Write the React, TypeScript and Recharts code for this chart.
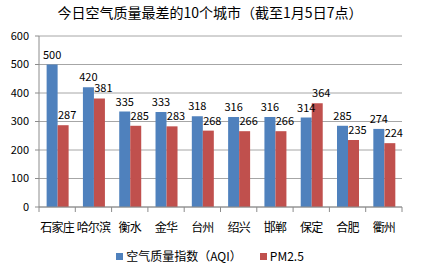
import { Bar, BarChart, CartesianGrid, LabelList, XAxis, YAxis } from "recharts";

const cities = ["石家庄", "哈尔滨", "衡水", "金华", "台州", "绍兴", "邯郸", "保定", "合肥", "衢州"];
const aqi = [500, 420, 335, 333, 318, 316, 316, 314, 285, 274];
const pm25 = [287, 381, 285, 283, 268, 266, 266, 364, 235, 224];
const yTicks = [0, 100, 200, 300, 400, 500, 600];
const series = [
  { key: "aqi", name: "空气质量指数（AQI）" },
  { key: "pm25", name: "PM2.5" },
];

const data = cities.map((city, i) => ({ city, aqi: aqi[i], pm25: pm25[i] }));

const FONT = "'Noto Sans CJK SC', 'Noto Sans', sans-serif";
const COLORS: Record<string, string> = {
  aqi: "#4F81BD",
  pm25: "#C0504D",
  grid: "#a6a6a6",
  tick: "#8c8c8c",
  text: "#000",
};

const W = 428;
const H = 271;
const MARGIN = { top: 36, right: 26, left: 0, bottom: 40 };
const Y_WIDTH = 39;
const TICK_MARGIN = 7;
const BAND = (W - MARGIN.left - MARGIN.right - Y_WIDTH) / cities.length;

// category label plus Excel-style tick marks on the band edges
function CityTick(props: any) {
  const { x, y, payload, index } = props;
  const left = x - BAND / 2;
  const right = x + BAND / 2;
  const axisY = y - TICK_MARGIN;
  return (
    <g>
      <line x1={left} x2={left} y1={axisY} y2={axisY + 5} stroke={COLORS.tick} />
      {index === cities.length - 1 && (
        <line x1={right} x2={right} y1={axisY} y2={axisY + 5} stroke={COLORS.tick} />
      )}
      <text
        x={x}
        y={y + 9}
        dy="0.71em"
        textAnchor="middle"
        fontSize={12}
        fill={COLORS.text}
        fontFamily={FONT}
        letterSpacing={-0.8}
      >
        {payload.value}
      </text>
    </g>
  );
}

export default function App() {
  return (
    <div
      style={{
        position: "absolute",
        left: 0,
        top: 0,
        width: W,
        height: H,
        background: "#fff",
        fontFamily: FONT,
      }}
    >
      <div
        style={{
          position: "absolute",
          top: 2,
          left: 0,
          width: 420,
          textAlign: "center",
          fontSize: 14,
          lineHeight: "20px",
          color: "#000",
        }}
      >
        今日空气质量最差的10个城市（截至1月5日7点）
      </div>
      <BarChart
        width={W}
        height={H}
        data={data}
        margin={MARGIN}
        barCategoryGap="21%"
        barGap={0}
      >
        <CartesianGrid stroke={COLORS.grid} vertical={false} />
        <XAxis
          dataKey="city"
          height={24}
          axisLine={{ stroke: COLORS.tick }}
          tickLine={false}
          tickSize={0}
          tickMargin={TICK_MARGIN}
          tick={<CityTick />}
          interval={0}
        />
        <YAxis
          domain={[0, 600]}
          ticks={yTicks}
          width={Y_WIDTH}
          axisLine={{ stroke: COLORS.tick }}
          tickLine={{ stroke: COLORS.tick }}
          tickSize={4}
          tickMargin={6}
          tick={{ fontSize: 11, fill: COLORS.text, fontFamily: FONT }}
        />
        <Bar dataKey="aqi" fill={COLORS.aqi} isAnimationActive={false}>
          <LabelList dataKey="aqi" position="top" offset={6} fontSize={11} fill={COLORS.text} />
        </Bar>
        <Bar dataKey="pm25" fill={COLORS.pm25} isAnimationActive={false}>
          <LabelList dataKey="pm25" position="top" offset={6} dx={4} fontSize={11} fill={COLORS.text} />
        </Bar>
      </BarChart>
      <div
        style={{
          position: "absolute",
          top: 248,
          left: 0,
          width: 420,
          display: "flex",
          justifyContent: "center",
          gap: 18,
          fontSize: 12,
          lineHeight: "16px",
          color: COLORS.text,
        }}
      >
        {series.map((s) => (
          <span key={s.key} style={{ display: "flex", alignItems: "center" }}>
            <span
              style={{
                display: "inline-block",
                width: 7,
                height: 7,
                background: COLORS[s.key],
                marginRight: 3,
              }}
            />
            {s.name}
          </span>
        ))}
      </div>
    </div>
  );
}
